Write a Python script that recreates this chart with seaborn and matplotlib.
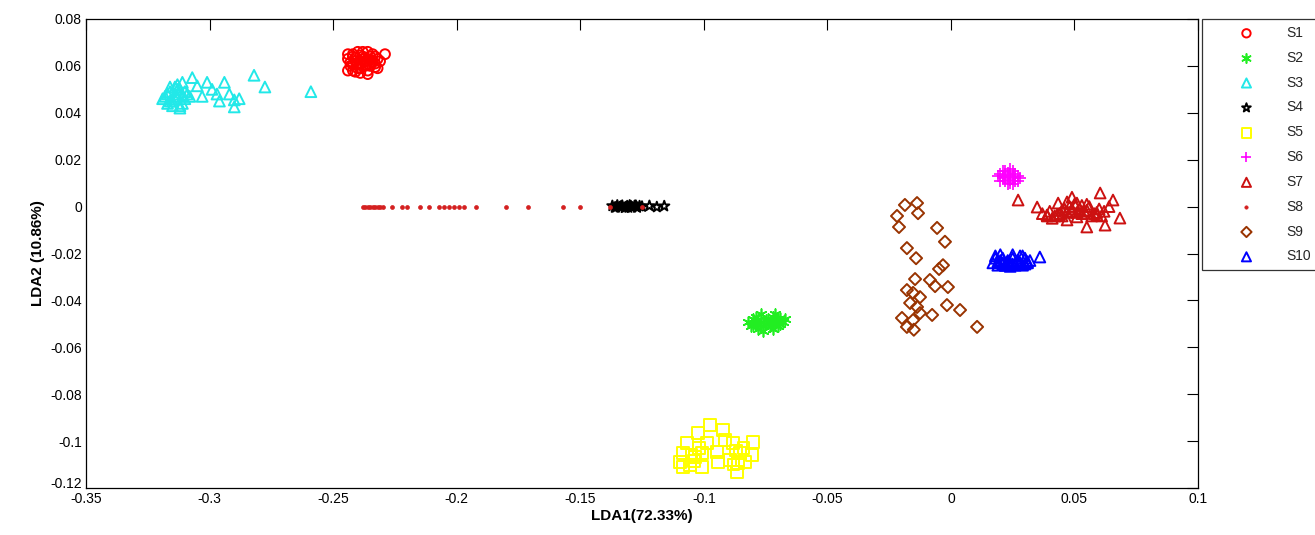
import numpy as np
import pandas as pd
import matplotlib
matplotlib.use("Agg")
import matplotlib.pyplot as plt
import matplotlib.transforms as mtransforms
import seaborn as sns

# ---------------- data ----------------
labels = ["S1", "S2", "S3", "S4", "S5", "S6", "S7", "S8", "S9", "S10"]

s1_x = [-0.244, -0.242, -0.240, -0.238, -0.236, -0.234, -0.232, -0.243, -0.241, -0.239,
        -0.237, -0.235, -0.233, -0.244, -0.240, -0.236, -0.232, -0.242, -0.238, -0.234,
        -0.229, -0.239, -0.236, -0.241, -0.237, -0.233, -0.243, -0.241, -0.239, -0.237,
        -0.235, -0.233, -0.242, -0.240, -0.238, -0.236, -0.234, -0.244, -0.231, -0.239,
        -0.235, -0.242, -0.238]
s1_y = [0.063, 0.065, 0.066, 0.064, 0.066, 0.065, 0.063, 0.060, 0.062, 0.061,
        0.062, 0.060, 0.061, 0.058, 0.059, 0.058, 0.059, 0.064, 0.063, 0.062,
        0.065, 0.057, 0.0565, 0.0575, 0.060, 0.064, 0.0615, 0.0635, 0.0645, 0.0605,
        0.0625, 0.0595, 0.0605, 0.0610, 0.0600, 0.0630, 0.0615, 0.0650, 0.0620, 0.0590,
        0.0640, 0.0580, 0.0660]

s2_x = [-0.082, -0.080, -0.078, -0.076, -0.074, -0.072, -0.070, -0.068, -0.081, -0.079,
        -0.077, -0.075, -0.073, -0.071, -0.069, -0.067, -0.078, -0.076, -0.072, -0.070,
        -0.077, -0.074, -0.079, -0.071, -0.080, -0.075, -0.073, -0.069, -0.078, -0.072]
s2_y = [-0.049, -0.048, -0.050, -0.051, -0.049, -0.047, -0.048, -0.049, -0.051, -0.047,
        -0.049, -0.050, -0.051, -0.050, -0.050, -0.048, -0.052, -0.053, -0.052, -0.051,
        -0.046, -0.048, -0.050, -0.046, -0.050, -0.0485, -0.0495, -0.0475, -0.0485, -0.0495]

s3_x = [-0.318, -0.316, -0.314, -0.312, -0.310, -0.317, -0.315, -0.313, -0.311, -0.319,
        -0.316, -0.313, -0.310, -0.315, -0.312, -0.309, -0.307, -0.305, -0.301, -0.294,
        -0.299, -0.292, -0.290, -0.290, -0.308, -0.311, -0.282, -0.2776, -0.259, -0.303,
        -0.297, -0.288, -0.296, -0.317, -0.314, -0.312, -0.316, -0.313, -0.311, -0.314]
s3_y = [0.047, 0.049, 0.048, 0.050, 0.046, 0.044, 0.045, 0.047, 0.044, 0.046,
        0.051, 0.052, 0.049, 0.043, 0.042, 0.048, 0.055, 0.0515, 0.053, 0.053,
        0.050, 0.048, 0.0455, 0.0425, 0.047, 0.053, 0.056, 0.051, 0.049, 0.047,
        0.048, 0.046, 0.045, 0.048, 0.046, 0.043, 0.045, 0.050, 0.047, 0.051]

s4_x = [-0.137, -0.136, -0.135, -0.134, -0.133, -0.132, -0.131, -0.130, -0.129, -0.128,
        -0.127, -0.126, -0.125, -0.122, -0.119, -0.116, -0.1355, -0.1335, -0.1315,
        -0.1295, -0.1275, -0.1305]
s4_y = [0.0003, -0.0004, 0.0005, -0.0002, 0.0004, -0.0005, 0.0002, 0.0005, -0.0003, 0.0003,
        -0.0004, 0.0002, 0.0, 0.0003, -0.0002, 0.0002, -0.0003, 0.0001, -0.0002,
        0.0002, 0.0004, -0.0004]

s5_x = [-0.0975, -0.1023, -0.0922, -0.1068, -0.0882, -0.0801, -0.1084, -0.1007, -0.0946,
        -0.0853, -0.0805, -0.1056, -0.1007, -0.0942, -0.0865, -0.0833, -0.1096, -0.0894,
        -0.0987, -0.1035, -0.0914, -0.0861, -0.1084, -0.1050, -0.1020, -0.0870, -0.0840,
        -0.1040, -0.0880]
s5_y = [-0.0931, -0.0966, -0.0953, -0.1008, -0.1008, -0.1004, -0.1051, -0.1051, -0.1046,
        -0.1051, -0.1059, -0.1102, -0.1110, -0.1089, -0.1132, -0.1089, -0.1089, -0.1081,
        -0.1008, -0.1068, -0.0995, -0.1093, -0.1110, -0.1060, -0.1030, -0.1040, -0.1030,
        -0.1085, -0.1100]

s6_x = [0.019, 0.020, 0.021, 0.022, 0.023, 0.024, 0.025, 0.026, 0.027, 0.020, 0.022,
        0.024, 0.026, 0.021, 0.023, 0.025, 0.027, 0.022, 0.024, 0.028, 0.023, 0.025,
        0.021, 0.026, 0.024, 0.022]
s6_y = [0.013, 0.014, 0.012, 0.015, 0.013, 0.016, 0.012, 0.014, 0.013, 0.011, 0.011,
        0.010, 0.011, 0.015, 0.0145, 0.015, 0.011, 0.0125, 0.0135, 0.012, 0.0095, 0.0095,
        0.0125, 0.0125, 0.0115, 0.0135]

s7_x = [0.0272, 0.0349, 0.0434, 0.049, 0.0604, 0.0656, 0.0389, 0.055, 0.0624, 0.0684,
        0.0591, 0.051, 0.047, 0.037, 0.040, 0.042, 0.044, 0.046, 0.048, 0.050, 0.052,
        0.054, 0.056, 0.058, 0.060, 0.062, 0.064, 0.041, 0.045, 0.049, 0.053, 0.057,
        0.061, 0.047, 0.051, 0.055, 0.039, 0.043, 0.047, 0.051, 0.055, 0.059, 0.049,
        0.053, 0.045]
s7_y = [0.0028, -0.0002, 0.0015, 0.004, 0.0058, 0.0028, -0.0036, -0.0087, -0.0079, -0.0049,
        -0.0036, -0.0044, -0.0057, -0.003, -0.002, -0.004, -0.003, -0.001, 0.000, 0.001,
        -0.001, -0.002, 0.000, -0.003, -0.001, -0.002, 0.000, -0.005, -0.004, -0.002,
        -0.003, -0.004, -0.004, 0.002, 0.0015, 0.001, -0.004, -0.0035, -0.0025, -0.0025,
        -0.0015, -0.0025, -0.001, 0.0005, -0.0015]

s8_x = [-0.238, -0.237, -0.236, -0.235, -0.234, -0.233, -0.232, -0.231, -0.230, -0.226,
        -0.222, -0.220, -0.215, -0.211, -0.207, -0.205, -0.203, -0.201, -0.199, -0.197,
        -0.192, -0.180, -0.171, -0.157, -0.150, -0.138, -0.125]
s8_y = [0.0] * len(s8_x)

s9_x = [-0.0186, -0.0137, -0.0218, -0.0133, -0.0210, -0.0056, -0.0024, -0.0178, -0.0141,
        -0.0032, -0.0048, -0.0085, -0.0145, -0.0064, -0.0012, -0.0178, -0.0153, -0.0125,
        -0.0165, -0.0137, -0.0016, 0.0037, -0.0125, -0.0198, -0.0076, -0.0153, -0.0178,
        0.0106, -0.0150]
s9_y = [0.0007, 0.0015, -0.0040, -0.0028, -0.0087, -0.0091, -0.0150, -0.0177, -0.0220,
        -0.0250, -0.0266, -0.0313, -0.0309, -0.0339, -0.0343, -0.0356, -0.0368, -0.0386,
        -0.0411, -0.0428, -0.0420, -0.0441, -0.0454, -0.0475, -0.0462, -0.0484, -0.0513,
        -0.0513, -0.0525]

s10_x = [0.017, 0.018, 0.019, 0.020, 0.021, 0.022, 0.023, 0.024, 0.025, 0.026, 0.027,
         0.028, 0.029, 0.030, 0.031, 0.032, 0.018, 0.020, 0.022, 0.024, 0.026, 0.028,
         0.030, 0.036, 0.021, 0.025, 0.029, 0.019, 0.023, 0.027, 0.031, 0.021, 0.025]
s10_y = [-0.024, -0.022, -0.025, -0.023, -0.024, -0.025, -0.023, -0.024, -0.022, -0.025,
         -0.023, -0.024, -0.025, -0.022, -0.024, -0.023, -0.021, -0.0205, -0.025, -0.0255,
         -0.0245, -0.021, -0.0245, -0.0215, -0.022, -0.0205, -0.021, -0.0235, -0.0235,
         -0.0235, -0.0235, -0.0245, -0.0245]

xs = [s1_x, s2_x, s3_x, s4_x, s5_x, s6_x, s7_x, s8_x, s9_x, s10_x]
ys = [s1_y, s2_y, s3_y, s4_y, s5_y, s6_y, s7_y, s8_y, s9_y, s10_y]

x_ticks = [-0.35, -0.3, -0.25, -0.2, -0.15, -0.1, -0.05, 0, 0.05, 0.1]
y_ticks = [-0.12, -0.1, -0.08, -0.06, -0.04, -0.02, 0, 0.02, 0.04, 0.06, 0.08]

# ---------------- styles ----------------
colors = ["#ff0000", "#22ee22", "#22e8e8", "#000000", "#ffff00",
          "#ff00ff", "#cc1111", "#d42020", "#993300", "#0000ff"]
markers = ["o", (6, 2, 0), "^", "*", "s", "+", "^", "o", "D", "^"]
hollow = [True, False, True, True, True, False, True, False, True, True]
sizes = [50, 60, 60, 60, 70, 65, 60, 8, 38, 60]

sns.set_theme(style="white")
plt.rcParams["font.family"] = ["Liberation Sans", "DejaVu Sans"]

fig = plt.figure(figsize=(13.15, 5.35), dpi=100)
ax = fig.add_axes([86 / 1315, 1 - 488 / 535, (1198 - 86) / 1315, (488 - 19) / 535])

for i, lab in enumerate(labels):
    df = pd.DataFrame({"x": xs[i], "y": ys[i]})
    kw = dict(data=df, x="x", y="y", ax=ax, marker=markers[i], s=sizes[i], label=lab)
    if hollow[i]:
        sns.scatterplot(**kw, color=colors[i], facecolors="none", edgecolor=colors[i],
                        linewidth=1.4)
    elif markers[i] == "o":
        sns.scatterplot(**kw, color=colors[i], edgecolor=colors[i], linewidth=0.5)
    else:
        sns.scatterplot(**kw, color=colors[i], linewidth=1.2)

ax.set_xlim(-0.35, 0.1)
ax.set_ylim(-0.12, 0.08)
ax.set_xticks(x_ticks)
ax.set_yticks(y_ticks)
ax.set_xticklabels([f"{t:g}" for t in x_ticks])
ax.set_yticklabels([f"{t:g}" for t in y_ticks])
ax.tick_params(direction="in", length=8, width=0.8, top=True, right=True,
               labelsize=10, colors="black", pad=3)
# MATLAB nudges the lowest y label up so that it sits above the first x label
lowest = ax.get_yticklabels()[0]
lowest.set_transform(lowest.get_transform() +
                     mtransforms.ScaledTranslation(0, 5 / 100, fig.dpi_scale_trans))
for sp in ax.spines.values():
    sp.set_color("black")
    sp.set_linewidth(0.9)
ax.set_xlabel("LDA1(72.33%)", fontsize=11, fontweight="bold", color="black", labelpad=2)
ax.set_ylabel("LDA2 (10.86%)", fontsize=11, fontweight="bold", color="black", labelpad=4)

handles, labs = ax.get_legend_handles_labels()
if ax.get_legend() is not None:
    ax.get_legend().remove()
leg = fig.legend(handles, labs, loc="upper left",
                 bbox_to_anchor=(1202 / 1315, 1 - 19 / 535), borderaxespad=0,
                 fontsize=10, frameon=True, fancybox=False, handlelength=5.4,
                 handletextpad=0.2, labelspacing=0.78, borderpad=0.5, markerscale=0.85)
leg.get_frame().set_edgecolor("black")
leg.get_frame().set_linewidth(0.9)

fig.savefig("out.png", dpi=100)
